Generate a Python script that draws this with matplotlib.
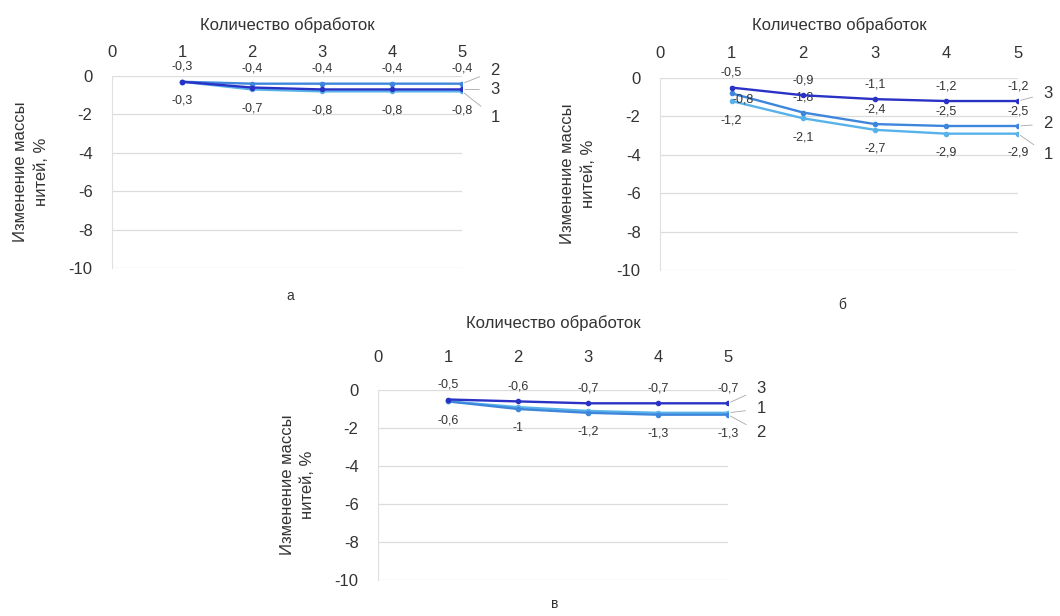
import matplotlib
matplotlib.use('Agg')
import matplotlib.pyplot as plt

plt.rcParams['font.family'] = ['Liberation Sans', 'DejaVu Sans']
plt.rcParams['axes.unicode_minus'] = False

# ---------------- data ----------------
treatments = [1, 2, 3, 4, 5]
x_ticks = [0, 1, 2, 3, 4, 5]
y_ticks = [0, -2, -4, -6, -8, -10]
series_names = ['1', '2', '3']
panel_captions = ['а', 'б', 'в']
x_title = 'Количество обработок'
y_title = 'Изменение массы\nнитей, %'

a_s1 = [-0.3, -0.7, -0.8, -0.8, -0.8]
a_s2 = [-0.3, -0.4, -0.4, -0.4, -0.4]
a_s3 = [-0.3, -0.6, -0.7, -0.7, -0.7]

b_s1 = [-1.2, -2.1, -2.7, -2.9, -2.9]
b_s2 = [-0.8, -1.8, -2.4, -2.5, -2.5]
b_s3 = [-0.5, -0.9, -1.1, -1.2, -1.2]

v_s1 = [-0.6, -0.9, -1.1, -1.2, -1.2]
v_s2 = [-0.6, -1.0, -1.2, -1.3, -1.3]
v_s3 = [-0.5, -0.6, -0.7, -0.7, -0.7]

# ---------------- style / layout ----------------
W, H = 1060, 616
colors = {'1': '#58b2ea', '2': '#3d86dc', '3': '#2a32c6'}
text_col = '#333333'

panels = [
    dict(px=(112, 462, 76, 268), data={'1': a_s1, '2': a_s2, '3': a_s3},
         labels={'1': 'below', '2': 'above', '3': None},
         ends={'1': (33, -26), '2': (33, 13), '3': (33, 0)},
         overrides={},
         title_px=25, tick_px=52, cap=(290, 296)),
    dict(px=(660, 1018, 78, 270), data={'1': b_s1, '2': b_s2, '3': b_s3},
         labels={'1': 'below', '2': 'above', '3': 'above'},
         ends={'1': (30, -21), '2': (30, 2), '3': (30, 8)},
         overrides={('2', 0): (12, -6)},
         title_px=25, tick_px=53, cap=(842, 305)),
    dict(px=(378, 728, 390, 580), data={'1': v_s1, '2': v_s2, '3': v_s3},
         labels={'1': None, '2': 'below', '3': 'above'},
         ends={'1': (33, 4), '2': (33, -18), '3': (33, 15)},
         overrides={},
         title_px=323, tick_px=357, cap=(555, 604)),
]


def fmt(v):
    return f'{v:g}'.replace('.', ',')


fig = plt.figure(figsize=(W / 100, H / 100), dpi=100)

for i, p in enumerate(panels):
    x0, x1, y0, y1 = p['px']
    ax = fig.add_axes([x0 / W, 1 - y1 / H, (x1 - x0) / W, (y1 - y0) / H])
    ax.set_xlim(0, 5)
    ax.set_ylim(-10, 0)
    ax.xaxis.tick_top()
    ax.xaxis.set_label_position('top')
    ax.set_xticks(x_ticks)
    ax.set_xticklabels([str(t) for t in x_ticks])
    ax.set_yticks(y_ticks)
    ax.set_yticklabels([str(t) for t in y_ticks])
    tick_pad_px = (y0 - p['tick_px']) - 8
    ax.tick_params(axis='x', length=0, pad=tick_pad_px * 0.72, labelsize=12, colors=text_col)
    ax.tick_params(axis='y', length=0, pad=14, labelsize=12, colors=text_col)
    ax.grid(axis='y', color='#dcdcdc', lw=0.9)
    ax.set_axisbelow(True)
    for s in ['top', 'right', 'bottom']:
        ax.spines[s].set_visible(False)
    ax.spines['left'].set_color('#e0e0e0')

    ax.set_xlabel(x_title, fontsize=12, color=text_col, va='center')
    ax.xaxis.set_label_coords(0.5, 1 + (y0 - p['title_px']) / (y1 - y0))
    ax.set_ylabel(y_title, fontsize=12, color=text_col, va='center', linespacing=1.5)
    ax.yaxis.set_label_coords(-0.23, 0.5)

    for name in series_names:
        vals = p['data'][name]
        ax.plot(treatments, vals, color=colors[name], lw=1.7, marker='o', ms=3,
                zorder=3)
        pos = p['labels'][name]
        if pos:
            dy = 15 if pos == 'above' else -19
            for k, (xv, yv) in enumerate(zip(treatments, vals)):
                off = p['overrides'].get((name, k), (0, dy))
                ax.annotate(fmt(yv), (xv, yv), xytext=off, textcoords='offset pixels',
                            ha='center', va='center', fontsize=9, color=text_col)
        ox, oy = p['ends'][name]
        ax.annotate(name, (treatments[-1], vals[-1]), xytext=(ox, oy),
                    textcoords='offset pixels', ha='center', va='center',
                    fontsize=12, color=text_col, annotation_clip=False,
                    arrowprops=dict(arrowstyle='-', color='#a8a8a8', lw=0.6,
                                    shrinkA=6, shrinkB=2))

    cx, cy = p['cap']
    fig.text(cx / W, 1 - cy / H, panel_captions[i], ha='center', va='center',
             fontsize=10, color=text_col)

fig.savefig('out.png', dpi=100)
